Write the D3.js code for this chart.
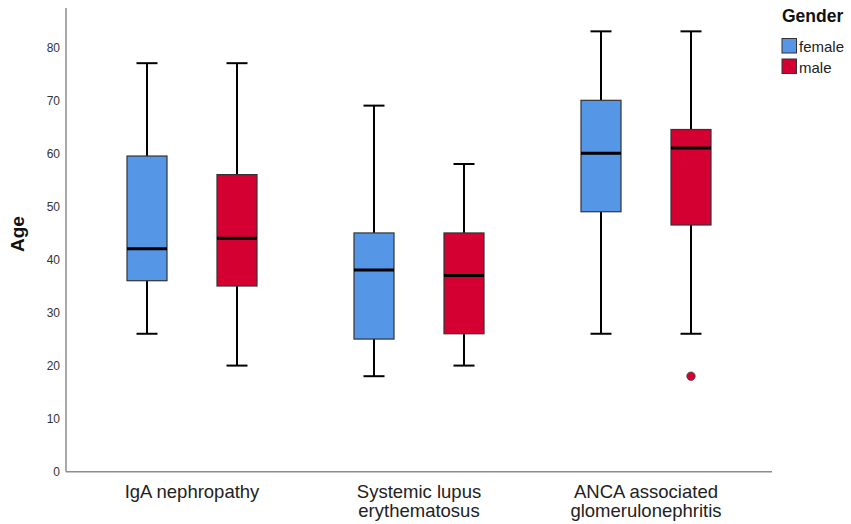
<!DOCTYPE html>
<html>
<head>
<meta charset="utf-8">
<script src="https://cdn.jsdelivr.net/npm/d3@7"></script>
<style>
  body { margin: 0; background: #fff; }
  svg { display: block; font-family: Arial, "Liberation Sans", sans-serif; }
</style>
</head>
<body>
<svg id="chart" width="851" height="524"></svg>
<script>
const categories = [["IgA nephropathy"], ["Systemic lupus", "erythematosus"], ["ANCA associated", "glomerulonephritis"]];
const categoryKeys = ["IgA", "SLE", "ANCA"];
const genders = ["female", "male"];
const genderColors = ["#5596E6", "#D50032"];
// [whiskerLow, q1, median, q3, whiskerHigh]
const femaleStats = [[26, 36, 42, 59.5, 77], [18, 25, 38, 45, 69], [26, 49, 60, 70, 83]];
const maleStats = [[20, 35, 44, 56, 77], [20, 26, 37, 45, 58], [26, 46.5, 61, 64.5, 83]];
const outliers = [{ cat: "ANCA", gender: "male", value: 18 }];
const yTicks = [0, 10, 20, 30, 40, 50, 60, 70, 80];

const svg = d3.select("#chart");
const mLeft = 66, mRight = 772, mTop = 8, mBottom = 471.7;

const y = d3.scaleLinear().domain([0, 87.4]).range([mBottom, mTop]);
const x = d3.scaleBand().domain(categoryKeys).range([78.5, 759.5]);
const g = d3.scaleBand().domain(genders).range([-65, 65]).paddingInner(5 / 9).paddingOuter(0);

// axes lines
svg.append("line").attr("x1", mLeft).attr("x2", mLeft).attr("y1", mTop).attr("y2", mBottom)
  .attr("stroke", "#8c8c8c").attr("stroke-width", 1.5);
svg.append("line").attr("x1", mLeft).attr("x2", mRight).attr("y1", mBottom).attr("y2", mBottom)
  .attr("stroke", "#8c8c8c").attr("stroke-width", 1.5);

// y tick labels
const yAxis = d3.axisLeft(y).tickValues(yTicks).tickSize(0).tickPadding(6);
const ya = svg.append("g").attr("transform", `translate(${mLeft},0)`).call(yAxis);
ya.select(".domain").remove();
ya.selectAll("text").attr("font-size", 12).attr("fill", "#333").attr("font-family", "Arial, 'Liberation Sans', sans-serif");

// y title
svg.append("text").attr("transform", "translate(24,234) rotate(-90)")
  .attr("text-anchor", "middle").attr("font-size", 19).attr("font-weight", "bold").attr("fill", "#111")
  .text("Age");

// x labels
categories.forEach((lines, i) => {
  const cx = x(categoryKeys[i]) + x.bandwidth() / 2;
  const t = svg.append("text").attr("text-anchor", "middle").attr("font-size", 18.5).attr("fill", "#222");
  lines.forEach((ln, j) => {
    t.append("tspan").attr("x", cx).attr("y", 498 + j * 19).text(ln);
  });
});

// boxes
const all = [];
categoryKeys.forEach((c, i) => {
  all.push({ cat: c, gender: "female", s: femaleStats[i], color: genderColors[0] });
  all.push({ cat: c, gender: "male", s: maleStats[i], color: genderColors[1] });
});
const bw = g.bandwidth();
const capW = 21;
all.forEach(d => {
  const cx = x(d.cat) + x.bandwidth() / 2 + g(d.gender) + bw / 2;
  const [lo, q1, med, q3, hi] = d.s;
  const grp = svg.append("g");
  grp.append("line").attr("x1", cx).attr("x2", cx).attr("y1", y(hi)).attr("y2", y(q3))
    .attr("stroke", "#000").attr("stroke-width", 2);
  grp.append("line").attr("x1", cx).attr("x2", cx).attr("y1", y(q1)).attr("y2", y(lo))
    .attr("stroke", "#000").attr("stroke-width", 2);
  grp.append("line").attr("x1", cx - capW / 2).attr("x2", cx + capW / 2).attr("y1", y(hi)).attr("y2", y(hi))
    .attr("stroke", "#000").attr("stroke-width", 2);
  grp.append("line").attr("x1", cx - capW / 2).attr("x2", cx + capW / 2).attr("y1", y(lo)).attr("y2", y(lo))
    .attr("stroke", "#000").attr("stroke-width", 2);
  grp.append("rect").attr("x", cx - bw / 2).attr("y", y(q3)).attr("width", bw).attr("height", y(q1) - y(q3))
    .attr("fill", d.color).attr("stroke", "#333").attr("stroke-width", 1.2);
  grp.append("line").attr("x1", cx - bw / 2).attr("x2", cx + bw / 2).attr("y1", y(med)).attr("y2", y(med))
    .attr("stroke", "#000").attr("stroke-width", 3);
});

// outliers
outliers.forEach(o => {
  const cx = x(o.cat) + x.bandwidth() / 2 + g(o.gender) + bw / 2;
  svg.append("circle").attr("cx", cx).attr("cy", y(o.value)).attr("r", 4.2)
    .attr("fill", genderColors[genders.indexOf(o.gender)]).attr("stroke", "#444").attr("stroke-width", 0.8);
});

// legend
svg.append("text").attr("x", 782).attr("y", 22).attr("font-size", 17.5).attr("font-weight", "bold")
  .attr("fill", "#111").text("Gender");
genders.forEach((gd, i) => {
  const yy = 38.5 + i * 20.5;
  svg.append("rect").attr("x", 782).attr("y", yy).attr("width", 14.5).attr("height", 14.5)
    .attr("fill", genderColors[i]).attr("stroke", "#333").attr("stroke-width", 1);
  svg.append("text").attr("x", 799).attr("y", yy + 13.5).attr("font-size", 15).attr("fill", "#222").text(gd);
});
</script>
</body>
</html>
